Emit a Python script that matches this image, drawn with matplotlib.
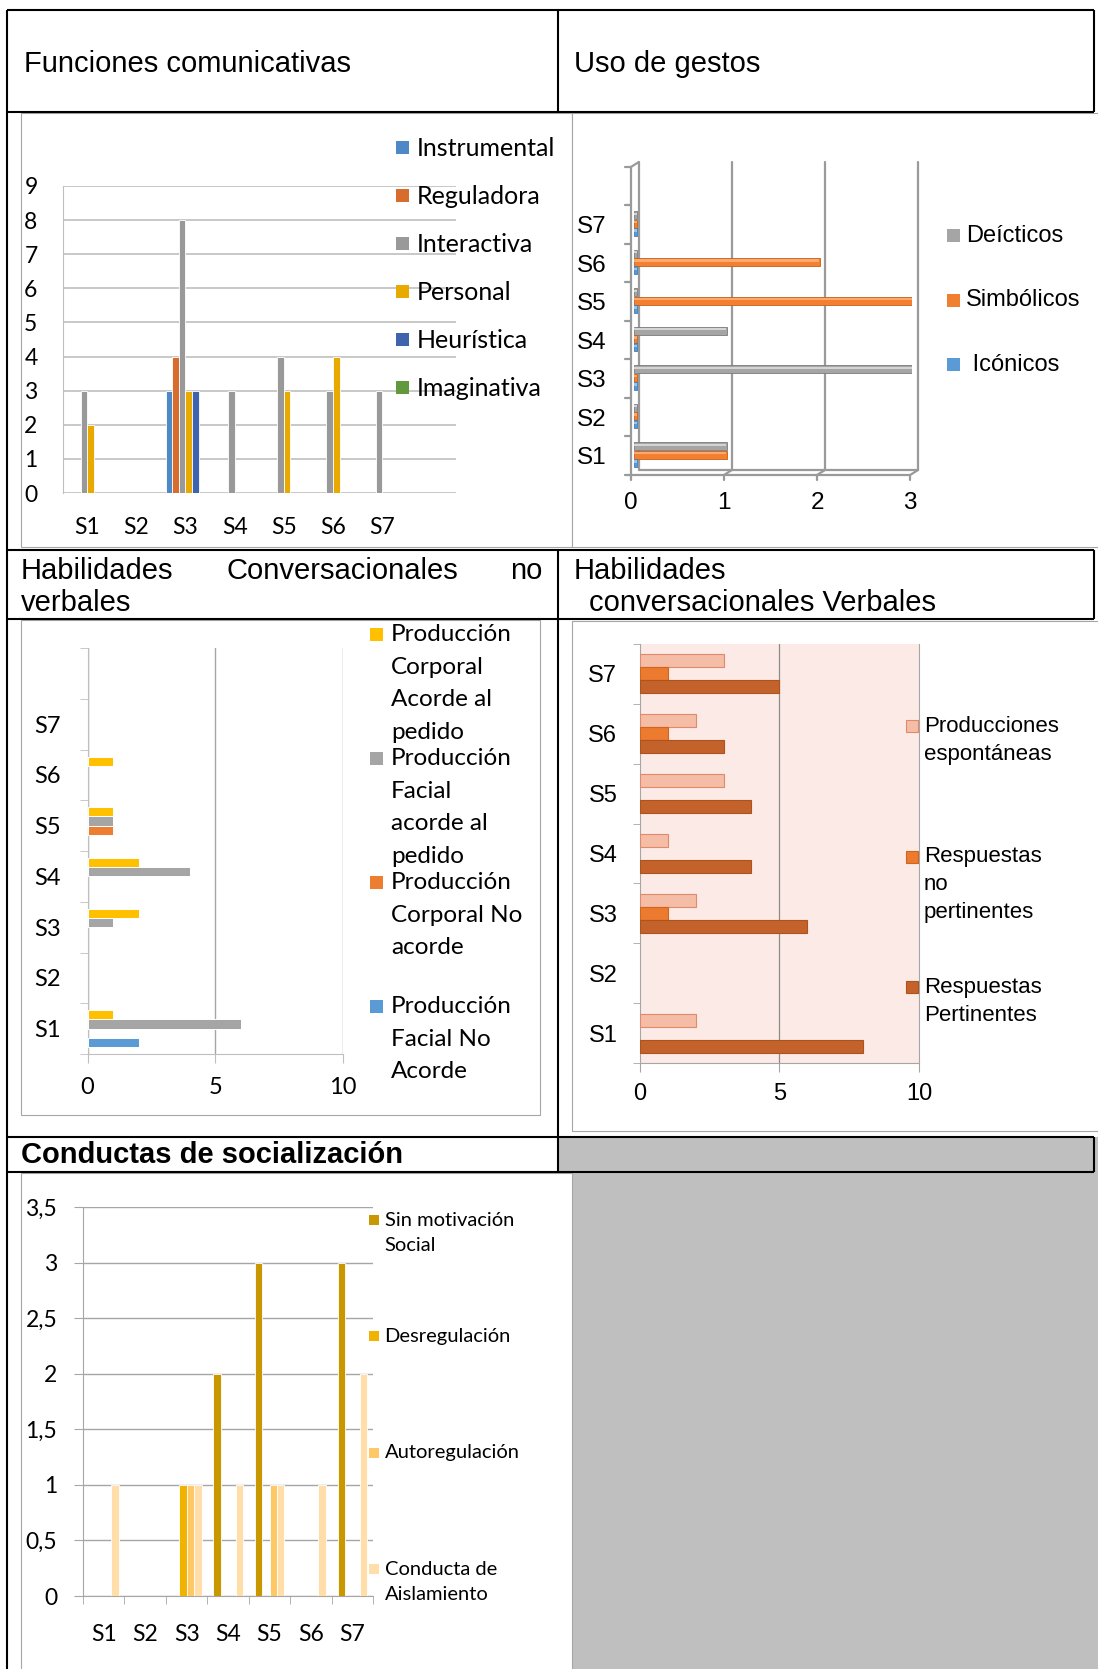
import matplotlib

matplotlib.use("Agg")
import matplotlib.pyplot as plt
import numpy as np
from matplotlib.patches import Rectangle

W, H = 1098, 1669
DPI = 100
PT = 72 / DPI  # points per pixel

CATEGORIES = ["S1", "S2", "S3", "S4", "S5", "S6", "S7"]

# Funciones comunicativas
FUNCIONES_LABELS = ["Instrumental", "Reguladora", "Interactiva", "Personal", "Heurística", "Imaginativa"]
INSTRUMENTAL = [0, 0, 3, 0, 0, 0, 0]
REGULADORA = [0, 0, 4, 0, 0, 0, 0]
INTERACTIVA = [3, 0, 8, 3, 4, 3, 3]
PERSONAL = [2, 0, 3, 0, 3, 4, 0]
HEURISTICA = [0, 0, 3, 0, 0, 0, 0]
IMAGINATIVA = [0, 0, 0, 0, 0, 0, 0]
FUNCIONES_COLORS = ["#4F88C6", "#D86C2C", "#999999", "#E8AA00", "#3F64AE", "#62993E"]

# Uso de gestos
GESTOS_LABELS = ["Deícticos", "Simbólicos", " Icónicos"]
DEICTICOS = [1, 0, 3, 1, 0, 0, 0]
SIMBOLICOS = [1, 0, 0, 0, 3, 2, 0]
ICONICOS = [0, 0, 0, 0, 0, 0, 0]
GESTOS_COLORS = ["#A5A5A5", "#F47F2E", "#5B9BD5"]

# Habilidades conversacionales no verbales
NO_VERBAL_LABELS = [
    "Producción\nCorporal\nAcorde al\npedido",
    "Producción\nFacial\nacorde al\npedido",
    "Producción\nCorporal No\nacorde",
    "Producción\nFacial No\nAcorde",
]
CORPORAL_ACORDE = [1, 0, 2, 2, 1, 1, 0]
FACIAL_ACORDE = [6, 0, 1, 4, 1, 0, 0]
CORPORAL_NO_ACORDE = [0, 0, 0, 0, 1, 0, 0]
FACIAL_NO_ACORDE = [2, 0, 0, 0, 0, 0, 0]
NO_VERBAL_COLORS = ["#FFC000", "#A5A5A5", "#ED7D31", "#5B9BD5"]

# Habilidades conversacionales verbales
VERBAL_LABELS = ["Producciones\nespontáneas", "Respuestas\nno\npertinentes", "Respuestas\nPertinentes"]
ESPONTANEAS = [2, 0, 2, 1, 3, 2, 3]
NO_PERTINENTES = [0, 0, 1, 0, 0, 1, 1]
PERTINENTES = [8, 0, 6, 4, 4, 3, 5]
VERBAL_COLORS = ["#F5BCA6", "#EC7B30", "#C4622B"]
VERBAL_EDGES = ["#DE8A6C", "#CF651F", "#AE521E"]

# Conductas de socializacion
SOCIAL_LABELS = ["Sin motivación\nSocial", "Desregulación", "Autoregulación", "Conducta de\nAislamiento"]
SIN_MOTIVACION = [0, 0, 0, 2, 3, 0, 3]
DESREGULACION = [0, 0, 1, 0, 0, 0, 0]
AUTOREGULACION = [0, 0, 1, 0, 1, 0, 0]
AISLAMIENTO = [1, 0, 1, 1, 1, 1, 2]
SOCIAL_COLORS = ["#C99700", "#F0B400", "#FFC866", "#FFDEAA"]

GRID = "#BFBFBF"
FRAME = "#A6A6A6"
SANS = "Liberation Sans"
CALI = "Lato"


def px_axes(fig, left, top, right, bottom, zorder=2):
    ax = fig.add_axes([left / W, 1 - bottom / H, (right - left) / W, (bottom - top) / H])
    ax.set_zorder(zorder)
    ax.patch.set_alpha(0)
    return ax


def set_tick_font(ax, family, size):
    for lab in ax.get_xticklabels() + ax.get_yticklabels():
        lab.set_fontfamily(family)
        lab.set_fontsize(size)


def draw_legend(ax, labels, colors, square_x, square_size, text_x, first_y, entry_step,
                line_step, family, size, edges=None):
    for i, (label, color) in enumerate(zip(labels, colors)):
        y = first_y + i * entry_step
        edge = edges[i] if edges else "none"
        ax.add_patch(Rectangle((square_x, y - square_size / 2), square_size, square_size,
                               facecolor=color, edgecolor=edge, linewidth=0.8))
        for j, line in enumerate(label.split("\n")):
            ax.text(text_x, y + j * line_step, line, family=family, fontsize=size,
                    ha="left", va="center")


def hline(ax, y, x0, x1, color="black", lw=1.5):
    ax.plot([x0, x1], [y, y], color=color, linewidth=lw, solid_capstyle="butt")


def vline(ax, x, y0, y1, color="black", lw=1.5):
    ax.plot([x, x], [y0, y1], color=color, linewidth=lw, solid_capstyle="butt")


def draw_table(bg):
    # gray empty cell
    bg.add_patch(Rectangle((558, 1137), 540, 35, facecolor="#BFBFBF", edgecolor="none"))
    bg.add_patch(Rectangle((572, 1172), 526, H - 1172, facecolor="#BFBFBF", edgecolor="none"))

    # chart frames
    for x0, y0, x1, y1 in [(20.7, 113, 572, 547), (572, 113, 1100, 547),
                           (21, 620, 540, 1115), (572, 621, 1100, 1131)]:
        bg.add_patch(Rectangle((x0, y0), x1 - x0, y1 - y0, facecolor="white",
                               edgecolor=FRAME, linewidth=0.8))
    bg.add_patch(Rectangle((21, 1173), 551, H, facecolor="white", edgecolor=FRAME, linewidth=0.8))

    # black table rules
    vline(bg, 7, 10, H)
    for y in [10, 112, 550, 619, 1137, 1172]:
        hline(bg, y, 7, 1094)
    for y0, y1 in [(10, 112), (550, 619), (619, 1137), (1137, 1172)]:
        vline(bg, 558, y0, y1)
    for y0, y1 in [(10, 112), (550, 619), (1137, 1172)]:
        vline(bg, 1094, y0, y1)

    # header texts
    hs = 21
    bg.text(24, 72, "Funciones comunicativas", family=SANS, fontsize=hs, va="baseline")
    bg.text(574, 72, "Uso de gestos", family=SANS, fontsize=hs, va="baseline")
    bg.text(21, 579, "Habilidades", family=SANS, fontsize=hs, va="baseline")
    bg.text(226, 579, "Conversacionales", family=SANS, fontsize=hs, va="baseline")
    bg.text(542, 579, "no", family=SANS, fontsize=hs, va="baseline", ha="right")
    bg.text(21, 611, "verbales", family=SANS, fontsize=hs, va="baseline")
    bg.text(574, 579, "Habilidades", family=SANS, fontsize=hs, va="baseline")
    bg.text(589, 611, "conversacionales Verbales", family=SANS, fontsize=hs, va="baseline")
    bg.text(21, 1163, "Conductas de socialización", family=SANS, fontsize=21,
            fontweight="bold", va="baseline")


def draw_funciones(fig, ov):
    ax = px_axes(fig, 62.5, 186, 456, 493)
    x = np.arange(len(CATEGORIES))
    width = 0.133
    series = [INSTRUMENTAL, REGULADORA, INTERACTIVA, PERSONAL, HEURISTICA, IMAGINATIVA]
    for i, (vals, color) in enumerate(zip(series, FUNCIONES_COLORS)):
        ax.bar(x + (i - 2.5) * width, vals, width, color=color, edgecolor="white",
               linewidth=[0.6 if v else 0 for v in vals], zorder=3)
    ax.set_xlim(-0.5, 7.5)
    ax.set_ylim(0, 9)
    ax.set_yticks(range(10))
    ax.set_xticks(x, CATEGORIES)
    ax.grid(axis="y", color=GRID, linewidth=1.2)
    ax.set_axisbelow(True)
    for side in ["top", "right", "bottom"]:
        ax.spines[side].set_visible(False)
    ax.spines["left"].set_color(GRID)
    ax.tick_params(axis="y", length=0, pad=18)
    ax.tick_params(axis="x", length=0, pad=17)
    set_tick_font(ax, CALI, 16.5)
    draw_legend(ov, FUNCIONES_LABELS, FUNCIONES_COLORS, 396, 13, 417, 148, 48, 0, CALI, 18)


def draw_gestos(fig, ov):
    ax = px_axes(fig, 630, 167, 912, 475)
    ax.set_xlim(-0.03, 3.0)
    ax.set_ylim(-0.5, 7.5)
    for side in ax.spines.values():
        side.set_visible(False)
    dx, dy = 0.07, 0.13
    wall = dict(color="#9A9A9A", linewidth=1.6, clip_on=False, solid_capstyle="round")
    # left wall, back wall gridlines and floor
    ax.plot([-0.02, -0.02], [-0.5, 7.5], **wall)
    ax.plot([dx - 0.005, dx - 0.005], [-0.5 + dy, 7.5 + dy], **wall)
    ax.plot([-0.02, dx - 0.005], [7.5, 7.5 + dy], **wall)
    ax.plot([-0.02, 2.98], [-0.5, -0.5], **wall)
    ax.plot([dx - 0.005, 3 + dx - 0.005], [-0.5 + dy, -0.5 + dy], **wall)
    for v in [1, 2, 3]:
        ax.plot([v + dx - 0.005] * 2, [-0.5 + dy, 7.5 + dy], **wall)
        ax.plot([v - 0.02, v + dx - 0.005], [-0.5, -0.5 + dy], **wall)
    for v in [0, 1, 2, 3]:
        ax.plot([v - 0.02, v - 0.02], [-0.5, -0.63], **wall)
    for b in np.arange(-0.5, 8, 1):
        ax.plot([-0.085, -0.02], [b, b], **wall)

    y = np.arange(len(CATEGORIES))
    thick = 0.21
    offsets = [0.245, 0.03, -0.185]
    edges = ["#7A7A7A", "#C45F18", "#3E7CB8"]
    lights = ["#D4D4D4", "#F9AA70", "#9CC3E8"]
    for vals, off, color, edge, light in zip([DEICTICOS, SIMBOLICOS, ICONICOS], offsets,
                                             GESTOS_COLORS, edges, lights):
        vals = np.array(vals, dtype=float)
        shown = np.where(vals == 0, 0.035, vals)
        ax.barh(y + off, shown, thick, left=0.01, color=color, edgecolor=edge,
                linewidth=0.6, zorder=3)
        ax.barh(y + off + 0.04, shown - 0.01, thick * 0.3, left=0.015, color=light,
                linewidth=0, zorder=4)
    ax.set_yticks(y, CATEGORIES)
    ax.set_xticks([-0.02, 0.98, 1.98, 2.98], ["0", "1", "2", "3"])
    ax.tick_params(length=0)
    ax.tick_params(axis="y", pad=17)
    ax.tick_params(axis="x", pad=12)
    set_tick_font(ax, SANS, 17.5)
    draw_legend(ov, GESTOS_LABELS, ["#A5A5A5", "#F07F30", "#5B9BD5"], 947, 13, 966, 236,
                64.5, 0, SANS, 17)


def draw_no_verbales(fig, ov):
    ax = px_axes(fig, 87.5, 648, 343, 1054)
    y = np.arange(len(CATEGORIES))
    h = 0.18
    series = [FACIAL_NO_ACORDE, CORPORAL_NO_ACORDE, FACIAL_ACORDE, CORPORAL_ACORDE]
    colors = [NO_VERBAL_COLORS[3], NO_VERBAL_COLORS[2], NO_VERBAL_COLORS[1], NO_VERBAL_COLORS[0]]
    for i, (vals, color) in enumerate(zip(series, colors)):
        ax.barh(y + (i - 1.5) * h, vals, h, color=color, edgecolor="white",
                linewidth=[0.7 if v else 0 for v in vals], zorder=3)
    ax.set_xlim(0, 10)
    ax.set_ylim(-0.5, 7.5)
    ax.set_yticks(y, CATEGORIES)
    ax.set_yticks(np.arange(-0.5, 8, 1), minor=True)
    ax.set_xticks([0, 5, 10])
    ax.grid(axis="x", color=FRAME, linewidth=1.0)
    ax.set_axisbelow(True)
    for side in ["top", "right"]:
        ax.spines[side].set_visible(False)
    for side in ["left", "bottom"]:
        ax.spines[side].set_color(GRID)
    ax.tick_params(axis="y", which="major", length=0, pad=19)
    ax.tick_params(axis="y", which="minor", length=8 * PT, color=GRID)
    ax.tick_params(axis="x", length=9 * PT, color=GRID, pad=10)
    set_tick_font(ax, CALI, 17)
    draw_legend(ov, NO_VERBAL_LABELS, NO_VERBAL_COLORS, 370, 13, 391, 634.6, 124, 32.5,
                CALI, 17.5)


def draw_verbales(fig, ov):
    ax = px_axes(fig, 639.6, 644, 919.3, 1063)
    ax.patch.set_alpha(1)
    ax.set_facecolor("#FBEAE5")
    y = np.arange(len(CATEGORIES))
    h = 0.217
    series = [ESPONTANEAS, NO_PERTINENTES, PERTINENTES]
    for i, (vals, color, edge) in enumerate(zip(series, VERBAL_COLORS, VERBAL_EDGES)):
        ax.barh(y + (1 - i) * h, vals, h, color=color, edgecolor=edge,
                linewidth=[0.8 if v else 0 for v in vals], zorder=3)
    ax.set_xlim(0, 10)
    ax.set_ylim(-0.5, 6.5)
    ax.set_yticks(y, CATEGORIES)
    ax.set_yticks(np.arange(-0.5, 7, 1), minor=True)
    ax.set_xticks([0, 5, 10])
    ax.axvline(5, color="#8C8C8C", linewidth=0.9, zorder=1)
    ax.spines["top"].set_visible(False)
    for side in ["left", "bottom", "right"]:
        ax.spines[side].set_color(FRAME)
    ax.tick_params(axis="y", which="major", length=0, pad=16)
    ax.tick_params(axis="y", which="minor", length=7.5 * PT, color=FRAME)
    ax.tick_params(axis="x", length=9 * PT, color=FRAME, pad=8)
    set_tick_font(ax, SANS, 17)
    draw_legend(ov, VERBAL_LABELS, VERBAL_COLORS, 906, 12, 924, 726, 130.7, 28, SANS, 16,
                edges=VERBAL_EDGES)


def draw_socializacion(fig, ov):
    ax = px_axes(fig, 82.9, 1207.3, 373.2, 1596)
    x = np.arange(len(CATEGORIES))
    w = 0.18
    series = [SIN_MOTIVACION, DESREGULACION, AUTOREGULACION, AISLAMIENTO]
    for i, (vals, color) in enumerate(zip(series, SOCIAL_COLORS)):
        ax.bar(x + (i - 1.5) * w, vals, w, color=color, edgecolor="white",
               linewidth=[0.6 if v else 0 for v in vals], zorder=3)
    ax.set_xlim(-0.5, 6.5)
    ax.set_ylim(0, 3.5)
    ticks = np.arange(0, 3.51, 0.5)
    ax.set_yticks(ticks, [f"{t:g}".replace(".", ",") for t in ticks])
    ax.set_xticks(x, CATEGORIES)
    ax.set_xticks(np.arange(-0.5, 7, 1), minor=True)
    ax.grid(axis="y", color=FRAME, linewidth=1.0)
    ax.set_axisbelow(True)
    for side in ["top", "right"]:
        ax.spines[side].set_visible(False)
    for side in ["left", "bottom"]:
        ax.spines[side].set_color(FRAME)
    ax.tick_params(axis="y", length=9 * PT, color=FRAME, pad=12)
    ax.tick_params(axis="x", which="major", length=0, pad=20)
    ax.tick_params(axis="x", which="minor", length=8 * PT, color=FRAME)
    set_tick_font(ax, CALI, 16.5)
    draw_legend(ov, SOCIAL_LABELS, SOCIAL_COLORS, 369, 10, 384.6, 1220, 116.4, 25.7, CALI, 14.5)


def main() -> None:
    fig = plt.figure(figsize=(W / DPI, H / DPI), dpi=DPI)
    bg = fig.add_axes([0, 0, 1, 1])
    bg.set_xlim(0, W)
    bg.set_ylim(H, 0)
    bg.axis("off")
    bg.set_zorder(0)
    ov = fig.add_axes([0, 0, 1, 1])
    ov.set_xlim(0, W)
    ov.set_ylim(H, 0)
    ov.axis("off")
    ov.set_zorder(10)
    ov.patch.set_alpha(0)

    draw_table(bg)
    draw_funciones(fig, ov)
    draw_gestos(fig, ov)
    draw_no_verbales(fig, ov)
    draw_verbales(fig, ov)
    draw_socializacion(fig, ov)

    fig.savefig("out.png", dpi=DPI)
    plt.close(fig)


if __name__ == "__main__":
    main()
